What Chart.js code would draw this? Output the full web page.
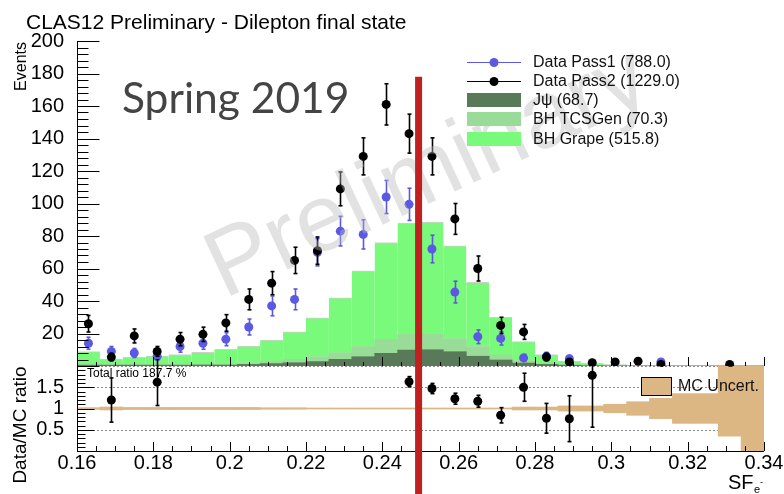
<!DOCTYPE html>
<html>
<head>
<meta charset="utf-8">
<script src="https://cdn.jsdelivr.net/npm/chart.js@4.4.1/dist/chart.umd.min.js"></script>
<style>
  html, body { margin: 0; padding: 0; background: #fff; }
  #wrap { position: relative; width: 784px; height: 494px; }
</style>
</head>
<body>
<div id="wrap"><canvas id="c" width="784" height="494"></canvas></div>
<script>
// SF_e- bins (width 0.006), counts per bin
const binCenters = [0.163, 0.169, 0.175, 0.181, 0.187, 0.193, 0.199, 0.205, 0.211, 0.217,
  0.223, 0.229, 0.235, 0.241, 0.247, 0.253, 0.259, 0.265, 0.271, 0.277,
  0.283, 0.289, 0.295, 0.301, 0.307, 0.313, 0.319, 0.325, 0.331, 0.337];

const pass1 = [14, 9, 8, 6, 12, 14, 16.5, 24, 37, 41, 70, 83, 81, 104, 99.5, 72, 45.5, 18, 17, 5, 6, 4.5, null, null, null, 2.5, null, null, null, null];
const pass1Err = [3.7, 3, 2.8, 2.4, 3.5, 3.7, 4, 4.9, 6.1, 6.4, 8.4, 9.1, 9, 10.2, 9.9, 8.5, 6.7, 4.2, 4.1, 2.2, 2.4, 2, null, null, null, 1.4, null, null, null, null];
const pass2 = [26, 5.5, 18.5, 9, 16.5, 19.5, 26.5, 41, 51, 65, 71, 109, 129, 161, 143, 129, 90.5, 60, 25, 21, 5.5, 2.5, 2, 2.5, 3, 1, null, null, 1, null];
const pass2Err = [5.1, 2.3, 4.3, 3, 4.1, 4.4, 5.1, 6.4, 7.1, 8.1, 8.4, 10.4, 11.4, 12.7, 12, 11.4, 9.5, 7.7, 5, 4.6, 2.3, 1.6, 1.4, 1.6, 1.7, 1, null, null, 1, null];

const jpsi = [0.5, 0.5, 0.5, 0.5, 0.5, 0.6, 0.6, 1, 1.5, 2, 2.7, 4.1, 5.7, 7.8, 9.8, 10, 8.8, 6, 3.7, 1.8, 1, 0.5, 0.2, 0.1, 0, 0, 0, 0, 0, 0];
const tcsGen = [0.7, 0.7, 0.7, 0.7, 0.7, 0.7, 0.8, 1, 1.5, 2.1, 3, 4.1, 6.2, 8.6, 9.7, 10, 8, 6, 3.1, 1.6, 0.8, 0.4, 0.2, 0.1, 0, 0, 0, 0, 0, 0];
const grape = [7.6, 3.1, 4.1, 4.9, 5.9, 7.1, 8.8, 10.3, 13, 16.9, 24, 33.8, 46.6, 59.6, 68.5, 68.5, 57.2, 39.5, 23.2, 11.6, 5.2, 2.1, 1.2, 0.6, 0.4, 0.3, 0.2, 0.2, 0.1, 0.1];

// lower pad: Data/MC ratio (only points inside 0..2 are drawn) and MC uncertainty band
const ratio = [null, 1.2, null, 1.62, null, null, null, null, null, null, null, null, null, null, 1.63, 1.47, 1.23, 1.17, 0.84, 1.5, 0.77, 0.76, 1.78, null, null, null, null, null, null, null];
const ratioErr = [null, 0.52, null, 0.55, null, null, null, null, null, null, null, null, null, null, 0.12, 0.12, 0.13, 0.14, 0.18, 0.33, 0.35, 0.54, 1.22, null, null, null, null, null, null, null];
const mcDown = [0.02, 0.035, 0.025, 0.025, 0.025, 0.025, 0.025, 0.025, 0.018, 0.018, 0.012, 0.012, 0.012, 0.012, 0.012, 0.012, 0.012, 0.012, 0.012, 0.035, 0.035, 0.06, 0.06, 0.1, 0.16, 0.24, 0.35, 0.35, 0.65, 1.0];
const mcUp = [0.02, 0.035, 0.025, 0.025, 0.025, 0.025, 0.025, 0.025, 0.018, 0.018, 0.012, 0.012, 0.012, 0.012, 0.012, 0.012, 0.012, 0.012, 0.012, 0.035, 0.035, 0.06, 0.06, 0.1, 0.16, 0.24, 0.35, 0.35, 1.0, 1.0];

const seriesNames = ["Data Pass1 (788.0)", "Data Pass2 (1229.0)", "J\u03c8 (68.7)", "BH TCSGen (70.3)", "BH Grape (515.8)"];
const xTicks = { min: 0.16, max: 0.34, major: 0.02, minor: 0.005 };
const cutValue = 0.2495;
const totalRatioText = "Total ratio 187.7 %";

const FONT = "'Liberation Sans', Arial, sans-serif";
const BLUE = "#5b58e3", BLACK = "#000";
const C_JPSI = "#587a58", C_TCS = "#98dc98", C_GRAPE = "#7afa7a", C_TAN = "#dcb683";

const pts = (vals, errs) => binCenters
  .map((x, i) => ({ x, y: vals[i], e: errs[i] }))
  .filter((p) => p.y !== null);
const bars = (vals) => binCenters.map((x, i) => ({ x, y: vals[i] }));
const barStyle = { type: "bar", yAxisID: "y", stack: "mc", grouped: false, barPercentage: 1, categoryPercentage: 1, order: 5, borderWidth: 0 };

function hline(ctx, x1, x2, y) { ctx.beginPath(); ctx.moveTo(x1, y); ctx.lineTo(x2, y); ctx.stroke(); }
function vline(ctx, x, y1, y2) { ctx.beginPath(); ctx.moveTo(x, y1); ctx.lineTo(x, y2); ctx.stroke(); }

// inward ROOT-style ticks on a vertical scale
function yTicks(ctx, s, x, lo, hi, major, minor, lMaj, lMin) {
  const n = Math.round((hi - lo) / minor);
  for (let k = 0; k <= n; k++) {
    const v = lo + k * minor;
    const y = Math.round(s.getPixelForValue(v)) + 0.5;
    const isMajor = Math.abs(v / major - Math.round(v / major)) < 1e-6;
    hline(ctx, x, x + (isMajor ? lMaj : lMin), y);
  }
}
function xTickMarks(ctx, s, y, lMaj, lMin) {
  const n = Math.round((xTicks.max - xTicks.min) / xTicks.minor);
  for (let k = 0; k <= n; k++) {
    const v = xTicks.min + k * xTicks.minor;
    const x = Math.round(s.getPixelForValue(v)) + 0.5;
    const isMajor = k % Math.round(xTicks.major / xTicks.minor) === 0;
    vline(ctx, x, y, y - (isMajor ? lMaj : lMin));
  }
}

const decor = {
  id: "decor",
  beforeDatasetsDraw(chart) {
    const { ctx, chartArea: a, scales: { ratio: r } } = chart;
    ctx.save();
    ctx.strokeStyle = "#8a8a8a";
    ctx.lineWidth = 1;
    ctx.setLineDash([2, 2]);
    [0.5, 1.5, 2].forEach((v) => hline(ctx, a.left, a.right, Math.round(r.getPixelForValue(v)) + 0.5));
    ctx.setLineDash([]);
    ctx.fillStyle = "#000";
    ctx.font = "12px " + FONT;
    ctx.textBaseline = "middle";
    ctx.fillText(totalRatioText, a.left + 10, r.getPixelForValue(1.82));
    ctx.restore();
  },
  beforeDatasetDraw(chart, args) {
    const ds = chart.data.datasets[args.index];
    if (!ds.errorBars) return;
    const { ctx, chartArea: a } = chart;
    const xs = chart.scales.x, ys = chart.scales[ds.yAxisID];
    ctx.save();
    ctx.beginPath();
    ctx.rect(a.left, ys.top - 7, a.right - a.left, ys.bottom - ys.top + 14);
    ctx.clip();
    ctx.strokeStyle = ds.backgroundColor;
    ctx.lineWidth = 1.6;
    ds.data.forEach((p) => {
      if (p.e == null) return;
      const x = Math.round(xs.getPixelForValue(p.x)) + 0.5;
      const y1 = ys.getPixelForValue(p.y + p.e), y2 = ys.getPixelForValue(p.y - p.e);
      vline(ctx, x, y1, y2);
      hline(ctx, x - 2, x + 2, y1);
      hline(ctx, x - 2, x + 2, y2);
    });
    ctx.restore();
  },
  afterDatasetsDraw(chart) {
    const { ctx, chartArea: a, scales: { x, y, ratio: r } } = chart;
    ctx.save();

    // watermark over the data, semi transparent
    ctx.save();
    ctx.translate(224, 299);
    ctx.rotate(-25 * Math.PI / 180);
    ctx.font = "95px " + FONT;
    ctx.fillStyle = "rgba(185,185,185,0.42)";
    ctx.textBaseline = "alphabetic";
    ctx.fillText("Preliminary", 0, 0);
    ctx.restore();

    ctx.fillStyle = "#444";
    ctx.font = "42.5px Lato, 'Open Sans', sans-serif";
    ctx.textBaseline = "alphabetic";
    ctx.fillText("Spring 2019", 122, 113);

    ctx.fillStyle = "#000";
    ctx.font = "21px " + FONT;
    ctx.fillText("CLAS12 Preliminary - Dilepton final state", 26, 29);

    // legend of the upper pad
    const lx = 467, lw = 54, tx = 533;
    const rows = [62, 81, 100, 119, 139];
    ctx.font = "16px " + FONT;
    ctx.textBaseline = "middle";
    [BLUE, BLACK].forEach((c, i) => {
      ctx.strokeStyle = c; ctx.fillStyle = c; ctx.lineWidth = 1;
      hline(ctx, lx, lx + lw, rows[i] + 0.5);
      ctx.beginPath(); ctx.arc(lx + lw / 2, rows[i] + 0.5, 4.5, 0, Math.PI * 2); ctx.fill();
    });
    [C_JPSI, C_TCS, C_GRAPE].forEach((c, i) => {
      ctx.fillStyle = c;
      ctx.fillRect(lx, rows[i + 2] - 7, lw, 14);
    });
    ctx.fillStyle = "#111";
    seriesNames.forEach((t, i) => ctx.fillText(t, tx, rows[i] + 1));

    // legend of the ratio pad
    ctx.fillStyle = C_TAN;
    ctx.fillRect(641, 377, 30, 18);
    ctx.strokeStyle = "#000"; ctx.lineWidth = 1;
    ctx.strokeRect(641.5, 377.5, 30, 18);
    ctx.fillStyle = "#111";
    ctx.fillText("MC Uncert.", 678, 387);

    // axes
    ctx.strokeStyle = "#000"; ctx.lineWidth = 1;
    const ax = a.left + 0.5;
    vline(ctx, ax, y.top, r.bottom);
    hline(ctx, a.left, a.right, Math.round(r.bottom) + 0.5);
    yTicks(ctx, y, ax, 0, 200, 20, 4, 22, 11);
    yTicks(ctx, r, ax, 0, 2, 0.5, 0.1, 17, 8);
    xTickMarks(ctx, x, Math.round(r.bottom), 9, 5);
    xTickMarks(ctx, x, Math.round(y.bottom), 9, 4);

    // axis titles
    ctx.fillStyle = "#000";
    ctx.save();
    ctx.translate(22, 42);
    ctx.rotate(-Math.PI / 2);
    ctx.font = "16px " + FONT;
    ctx.textAlign = "right";
    ctx.fillText("Events", 0, 0);
    ctx.restore();
    ctx.save();
    ctx.translate(21, 425);
    ctx.rotate(-Math.PI / 2);
    ctx.font = "19px " + FONT;
    ctx.textAlign = "center";
    ctx.fillText("Data/MC ratio", 0, 0);
    ctx.restore();
    ctx.textBaseline = "alphabetic";
    ctx.font = "20px " + FONT;
    ctx.fillText("SF", 728, 489);
    ctx.font = "11px " + FONT;
    ctx.fillText("e", 754, 493);
    ctx.font = "9px " + FONT;
    ctx.fillText("-", 760, 485);

    // red cut line
    ctx.fillStyle = "#c0201f";
    const cx = x.getPixelForValue(cutValue);
    ctx.fillRect(cx - 3.5, y.getPixelForValue(178), 7, chart.height);
    ctx.restore();
  }
};

new Chart(document.getElementById("c"), {
  type: "scatter",
  data: {
    datasets: [
      { ...barStyle, label: seriesNames[2], data: bars(jpsi), backgroundColor: C_JPSI },
      { ...barStyle, label: seriesNames[3], data: bars(tcsGen), backgroundColor: C_TCS },
      { ...barStyle, label: seriesNames[4], data: bars(grape), backgroundColor: C_GRAPE,
        borderColor: "#cfcfcf", borderWidth: { top: 1, left: 0, right: 0, bottom: 0 } },
      { type: "bar", label: "MC Uncert.", yAxisID: "ratio", grouped: false, barPercentage: 1, categoryPercentage: 1, order: 4,
        data: binCenters.map((xv, i) => ({ x: xv, y: [1 - mcDown[i], 1 + mcUp[i]] })), backgroundColor: C_TAN },
      { label: seriesNames[0], yAxisID: "y", order: 2, errorBars: true, data: pts(pass1, pass1Err),
        backgroundColor: BLUE, pointRadius: 4.5, pointBorderWidth: 0 },
      { label: seriesNames[1], yAxisID: "y", order: 1, errorBars: true, data: pts(pass2, pass2Err),
        backgroundColor: BLACK, pointRadius: 4.5, pointBorderWidth: 0 },
      { label: "Data/MC", yAxisID: "ratio", order: 1, errorBars: true, data: pts(ratio, ratioErr),
        backgroundColor: BLACK, pointRadius: 4.5, pointBorderWidth: 0 }
    ]
  },
  options: {
    responsive: false,
    animation: false,
    events: [],
    layout: { padding: { top: 41, right: 20, left: 0, bottom: 0 } },
    plugins: { legend: { display: false }, tooltip: { enabled: false } },
    scales: {
      x: {
        type: "linear", min: xTicks.min, max: xTicks.max, offset: false,
        grid: { display: false }, border: { display: false },
        ticks: { stepSize: xTicks.major, autoSkip: false, maxRotation: 0, padding: -8, color: "#000",
          font: { family: FONT, size: 20 }, callback: (v) => String(+v.toFixed(2)) },
        afterFit: (s) => { s.height = 43; }
      },
      y: {
        type: "linear", axis: "y", position: "left", stack: "pads", stackWeight: 325, weight: 2,
        min: 0, max: 200, grid: { display: false }, border: { display: false },
        ticks: { stepSize: 20, autoSkip: false, padding: 5, color: "#000", font: { family: FONT, size: 20 },
          callback: (v) => (v === 0 ? "" : v) },
        afterFit: (s) => { s.width = 77; }
      },
      ratio: {
        type: "linear", axis: "y", position: "left", stack: "pads", stackWeight: 85, weight: 1,
        min: 0, max: 2, grid: { display: false }, border: { display: false },
        ticks: { stepSize: 0.5, autoSkip: false, padding: 5, color: "#000", font: { family: FONT, size: 20 },
          callback: (v) => (v === 0 || v === 2 ? "" : v) },
        afterFit: (s) => { s.width = 77; }
      }
    }
  },
  plugins: [decor]
});
</script>
</body>
</html>
